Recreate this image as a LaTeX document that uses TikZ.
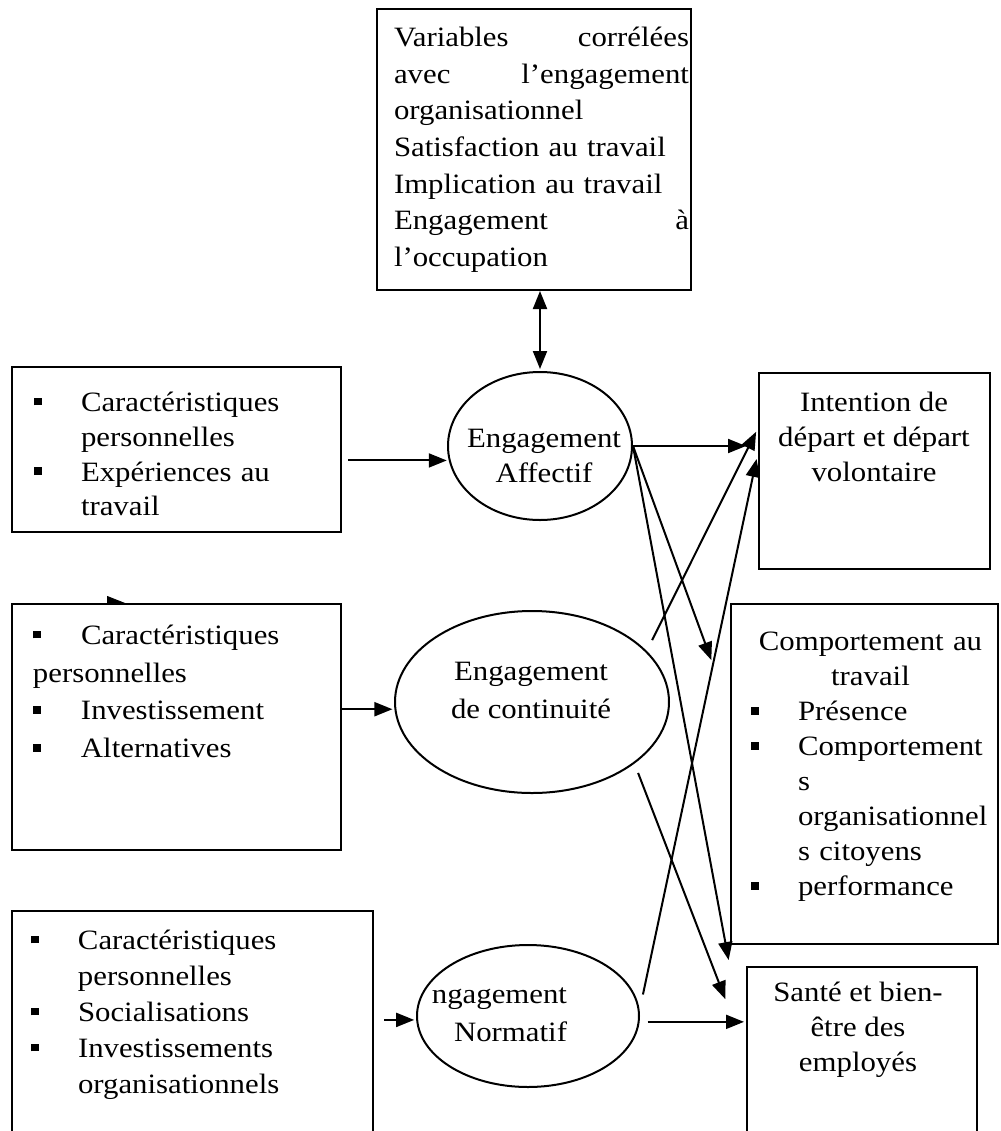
\documentclass[tikz,border=0pt]{standalone}
\usepackage{fontspec}
\setmainfont{Liberation Serif}[FakeStretch=1.1]
\usepackage{tikz}
\usetikzlibrary{shapes.geometric, arrows.meta, backgrounds}
\setlength{\parindent}{0pt}
\newcommand{\puce}{\makebox[23.5pt][l]{\rule[3pt]{3.8pt}{3.8pt}}}
\newcommand{\retrait}{\hspace*{23.5pt}}

\begin{document}
\begin{tikzpicture}[shorten >=1pt,->,x=0.5pt,y=-0.5pt,line width=1pt,
    >={Triangle[length=9pt,width=7pt]}]
  \tikzstyle{boite}=[draw, rectangle, fill=white, inner sep=0pt]
  \tikzstyle{bulle}=[draw, ellipse, fill=white, inner sep=0pt]
  \tikzstyle{texte}=[inner sep=0pt, font=\fontsize{14}{17.5}\selectfont]
  \useasboundingbox (0,0) rectangle (1001,1131);
  \clip (0,0) rectangle (1001,1131);

  % cadres
  \node[boite, minimum width=157pt, minimum height=140.5pt] (correlees) at (534,149.5) {};
  \node[boite, minimum width=164.5pt, minimum height=82.5pt] (caract1) at (176.5,449.5) {};
  \node[boite, minimum width=164.5pt, minimum height=123pt] (caract2) at (176.5,727) {};
  \node[boite, minimum width=180.5pt, minimum height=117pt] (caract3) at (192.5,1028) {};
  \node[boite, minimum width=115.5pt, minimum height=98pt] (intention) at (874.5,471) {};
  \node[boite, minimum width=133.5pt, minimum height=170pt] (comportement) at (864.5,774) {};
  \node[boite, minimum width=115pt, minimum height=89pt] (sante) at (862,1056) {};

  % ellipses
  \node[bulle, minimum width=92pt, minimum height=74pt] (affectif) at (540,446) {};
  \node[bulle, minimum width=137pt, minimum height=91pt] (continuite) at (532,702) {};
  \node[bulle, minimum width=111pt, minimum height=71pt] (normatif) at (528,1016) {};

  % textes
  \node[texte, anchor=north west, text width=147.5pt, align=left,
    font=\fontsize{14}{18.35}\selectfont] (correlees-txt) at (393,26)
    {\makebox[147.5pt]{Variables\hfill corrélées}\\
     \makebox[147.5pt]{avec\hfill l’engagement}\\
     organisationnel\\
     Satisfaction au travail\\
     Implication au travail\\
     \makebox[147.5pt]{Engagement\hfill à}\\
     l’occupation};
  \node[texte, anchor=north west, text width=150pt, align=left,
    font=\fontsize{14}{17.4}\selectfont] (caract1-txt) at (33,391)
    {\puce Caractéristiques\\ \retrait personnelles\\ \puce Expériences au\\ \retrait travail};
  \node[texte, anchor=north west, text width=150pt, align=left,
    font=\fontsize{14}{18.85}\selectfont] (caract2-txt) at (32,624)
    {\makebox[24pt][l]{\rule[3pt]{3.8pt}{3.8pt}}Caractéristiques\\ personnelles\\
     \makebox[24pt][l]{\rule[3pt]{3.8pt}{3.8pt}}Investissement\\
     \makebox[24pt][l]{\rule[3pt]{3.8pt}{3.8pt}}Alternatives};
  \node[texte, anchor=north west, text width=165pt, align=left,
    font=\fontsize{14}{18}\selectfont] (caract3-txt) at (30,929)
    {\puce Caractéristiques\\ \retrait personnelles\\ \puce Socialisations\\
     \puce Investissements\\ \retrait organisationnels};
  \node[texte, anchor=north, align=center] (intention-txt) at (874,391)
    {Intention de\\ départ et départ\\ volontaire};
  \node[texte, anchor=north west, text width=119.5pt, align=left] (comportement-txt) at (750,631)
    {{\centering Comportement au\\ travail\par}
     \puce Présence\\ \puce Comportement\\ \retrait s\\ \retrait organisationnel\\
     \retrait s citoyens\\ \puce performance};
  \node[texte, anchor=north, align=center] (sante-txt) at (858,981)
    {Santé et bien-\\ être des\\ employés};
  \node[texte, anchor=north, align=center] (affectif-txt) at (544,428.5)
    {Engagement\\ Affectif};
  \node[texte, anchor=north, align=center, font=\fontsize{14}{19}\selectfont]
    (continuite-txt) at (531,661.5) {Engagement\\ de continuité};
  \node[texte, anchor=north east, align=right, font=\fontsize{14}{19}\selectfont]
    (normatif-txt) at (568,987) {ngagement\\ Normatif};

  % fleches
  \draw[<->] (correlees.south -| affectif.north) -- (affectif.north);
  \draw[shorten <=3pt] (caract1.east |- affectif.189) -- (affectif.189);
  \draw (caract2.east |- continuite.183) -- (continuite.183);
  \draw[shorten <=5pt] (caract3.east |- normatif.182) -- (normatif.182);
  \draw[shorten >=6pt] (affectif.east) -- (intention.west |- affectif.east);
  \draw (affectif.east) -- ([shift={(-9pt,-29.5pt)}]comportement.north west);
  \draw (affectif.east) -- ([shift={(-8.5pt,2pt)}]sante.north west);
  \draw[shorten <=6pt] (continuite.24) -- ([shift={(-0.5pt,20.5pt)}]intention.west);
  \draw[shorten <=5pt] (continuite.329) -- ([shift={(-10pt,-17.5pt)}]sante.north west);
  \draw[shorten <=8pt] (normatif.3) -- ([shift={(-0.5pt,7pt)}]intention.west);
  \draw[shorten <=4pt] (normatif.357) -- (sante.west |- normatif.357);
  \begin{scope}[on background layer]
    \draw ([xshift=40pt]caract2.north west) -- ([xshift=58pt]caract2.north west);
  \end{scope}
\end{tikzpicture}
\end{document}
